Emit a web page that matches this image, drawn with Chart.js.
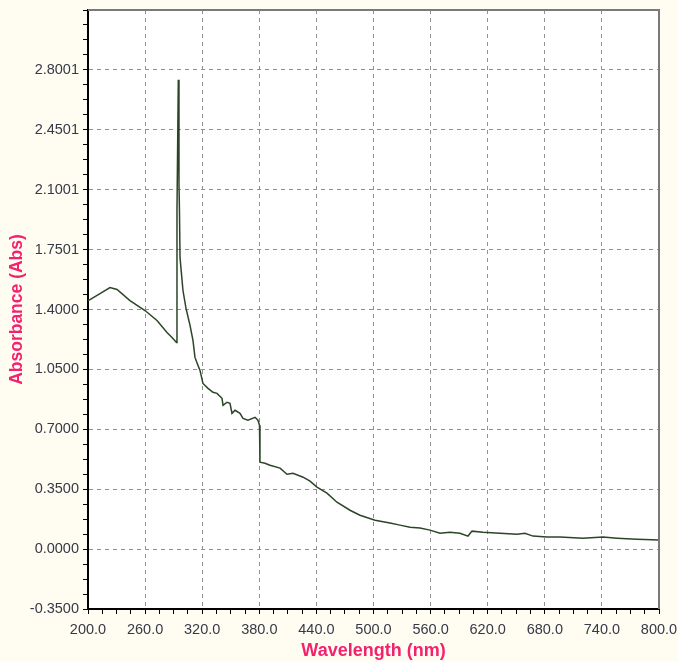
<!DOCTYPE html>
<html>
<head>
<meta charset="utf-8">
<script src="https://cdn.jsdelivr.net/npm/chart.js@4.4.0/dist/chart.umd.min.js"></script>
<style>
  html, body { margin: 0; padding: 0; background: #fffdf1; }
  #wrap { width: 678px; height: 662px; }
</style>
</head>
<body>
<div id="wrap"><canvas id="spec"></canvas></div>
<script>
// ── absorbance spectrum, values ──
const wavelengths = [
    200.0, 202.1, 212.6, 223.1, 230.5, 244.1, 259.9, 272.5, 283.0, 288.3,
    293.0, 293.5, 294.9, 295.6, 296.1, 296.7, 299.8, 303.0, 307.2, 310.3,
    312.4, 315.6, 317.7, 320.8, 326.1, 331.3, 335.6, 340.8, 341.9, 346.1,
    349.2, 351.3, 354.5, 359.7, 362.9, 368.1, 375.5, 378.6, 380.2, 380.7,
    386.0, 391.2, 401.8, 409.1, 415.4, 426.0, 433.3, 440.6, 451.1, 461.6,
    475.3, 485.8, 501.6, 517.3, 527.8, 538.4, 548.9, 559.4, 569.9, 580.4,
    590.9, 599.3, 603.5, 615.1, 632.9, 650.8, 659.2, 667.6, 682.3, 696.0,
    720.1, 741.2, 755.9, 776.9, 800.0
];
const absorbance = [
    1.452, 1.458, 1.493, 1.528, 1.517, 1.452, 1.394, 1.336, 1.266, 1.237,
    1.207, 1.978, 2.742, 2.135, 1.978, 1.703, 1.511, 1.406, 1.307, 1.219,
    1.120, 1.073, 1.044, 0.968, 0.939, 0.916, 0.910, 0.881, 0.840, 0.858,
    0.852, 0.793, 0.811, 0.793, 0.764, 0.753, 0.770, 0.753, 0.723, 0.508,
    0.502, 0.490, 0.473, 0.437, 0.443, 0.420, 0.397, 0.362, 0.327, 0.274,
    0.227, 0.198, 0.169, 0.152, 0.140, 0.128, 0.123, 0.111, 0.093, 0.099,
    0.093, 0.076, 0.105, 0.099, 0.093, 0.087, 0.093, 0.076, 0.070, 0.070,
    0.064, 0.070, 0.064, 0.058, 0.053
];

// major ticks and the labels the instrument software prints for them
const xMajor = [200, 260, 320, 380, 440, 500, 560, 620, 680, 740, 800];
const xLabels = ['200.0', '260.0', '320.0', '380.0', '440.0', '500.0', '560.0', '620.0', '680.0', '740.0', '800.0'];
const yMajor = [-0.35, 0, 0.35, 0.70, 1.05, 1.40, 1.75, 2.10, 2.45, 2.80, 3.15];
const yLabels = ['-0.3500', '0.0000', '0.3500', '0.7000', '1.0500', '1.4000', '1.7501', '2.1001', '2.4501', '2.8001', ''];
const SUBDIV = 4;   // minor ticks between majors

const LINE_COLOR = '#2c4527';
const GRID_COLOR = '#929292';
const TITLE_COLOR = '#f4216f';
const TEXT_COLOR = '#363a48';
const FONT = 'Liberation Sans, Arial, sans-serif';

function withMinor(major) {
    const out = [];
    for (let i = 0; i < major.length - 1; i++) {
        const step = (major[i + 1] - major[i]) / SUBDIV;
        for (let k = 0; k < SUBDIV; k++) out.push({ value: major[i] + step * k });
    }
    out.push({ value: major[major.length - 1] });
    return out;
}

const isMajor = ctx => ctx.index % SUBDIV === 0;

const frame = {
    id: 'frame',
    beforeDraw(chart) {
        const { ctx, chartArea: a } = chart;
        ctx.save();
        ctx.fillStyle = '#fffdf1';
        ctx.fillRect(0, 0, chart.width, chart.height);
        ctx.fillStyle = '#ffffff';
        ctx.fillRect(a.left, a.top, a.right - a.left, a.bottom - a.top);
        ctx.restore();
    },
    afterDatasetsDraw(chart) {
        const { ctx, chartArea: a } = chart;
        ctx.save();
        ctx.strokeStyle = '#7a7a7a';
        ctx.lineWidth = 2;
        ctx.beginPath();
        ctx.moveTo(a.left, a.top);
        ctx.lineTo(a.right, a.top);
        ctx.lineTo(a.right, a.bottom);
        ctx.stroke();
        ctx.restore();
    }
};

new Chart(document.getElementById('spec'), {
    type: 'line',
    data: {
        datasets: [{
            data: wavelengths.map((w, i) => ({ x: w, y: absorbance[i] })),
            borderColor: LINE_COLOR,
            borderWidth: 1.5,
            pointRadius: 0,
            tension: 0,
            fill: false
        }]
    },
    options: {
        animation: false,
        responsive: true,
        maintainAspectRatio: false,
        layout: { padding: { top: 10, right: 19, left: 0, bottom: 0 } },
        plugins: { legend: { display: false }, tooltip: { enabled: false } },
        scales: {
            x: {
                type: 'linear',
                min: 200,
                max: 800,
                afterBuildTicks: s => { s.ticks = withMinor(xMajor); },
                afterFit: s => { s.height = 53; s.paddingLeft = 0; s.paddingRight = 0; },
                ticks: {
                    autoSkip: false,
                    maxRotation: 0,
                    padding: 7,
                    color: TEXT_COLOR,
                    font: { family: FONT, size: 14.5 },
                    callback: (v, i) => (i % SUBDIV === 0 ? xLabels[i / SUBDIV] : '')
                },
                grid: {
                    color: ctx => (isMajor(ctx) ? GRID_COLOR : 'rgba(0,0,0,0)'),
                    tickColor: '#000',
                    tickLength: 5,
                    lineWidth: 1
                },
                border: { color: '#000', width: 2, dash: [4, 4] },
                title: {
                    display: true,
                    text: 'Wavelength (nm)',
                    color: TITLE_COLOR,
                    font: { family: FONT, size: 18, weight: 'bold' },
                    padding: { top: 0, bottom: 0 }
                }
            },
            y: {
                type: 'linear',
                min: -0.35,
                max: 3.15,
                afterBuildTicks: s => { s.ticks = withMinor(yMajor); },
                afterFit: s => { s.width = 88; s.paddingTop = 0; s.paddingBottom = 0; },
                ticks: {
                    autoSkip: false,
                    padding: 4,
                    color: TEXT_COLOR,
                    font: { family: FONT, size: 14.5 },
                    callback: (v, i) => (i % SUBDIV === 0 ? yLabels[i / SUBDIV] : '')
                },
                grid: {
                    color: ctx => (isMajor(ctx) ? GRID_COLOR : 'rgba(0,0,0,0)'),
                    tickColor: '#000',
                    tickLength: 5,
                    lineWidth: 1
                },
                border: { color: '#000', width: 2, dash: [4, 4] },
                title: {
                    display: true,
                    text: 'Absorbance (Abs)',
                    color: TITLE_COLOR,
                    font: { family: FONT, size: 17.5, weight: 'bold' },
                    padding: { top: 7, bottom: 0 }
                }
            }
        }
    },
    plugins: [frame]
});
</script>
</body>
</html>
